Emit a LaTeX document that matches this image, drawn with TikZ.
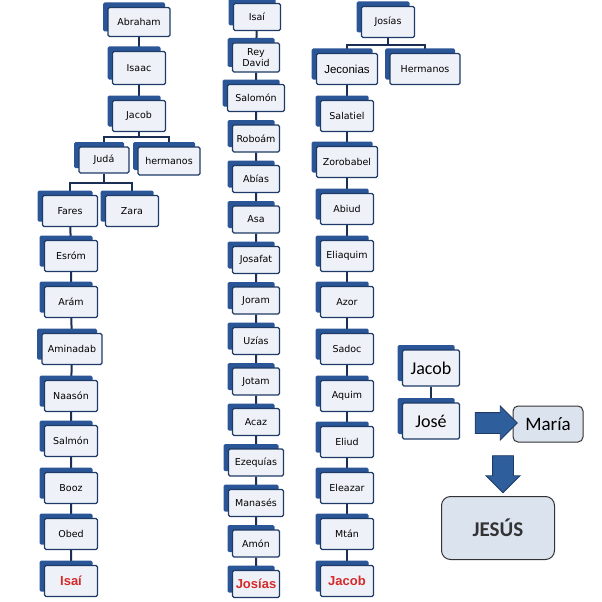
\documentclass[tikz,border=0pt]{standalone}
\usepackage{fontspec}
\setsansfont{DejaVu Sans}
\newfontfamily\arialfont{Liberation Sans}
\newfontfamily\califont{Carlito}
\usetikzlibrary{positioning}
\usetikzlibrary{shadows}
\usetikzlibrary{shapes.arrows}
\usetikzlibrary{backgrounds}

\definecolor{boxback}{HTML}{2A5596}
\definecolor{boxline}{HTML}{1E3A66}
\definecolor{boxface}{HTML}{EEF2F8}
\definecolor{linknavy}{HTML}{1B2F55}
\definecolor{endred}{HTML}{D42A2A}
\definecolor{softblue}{HTML}{DBE3EF}
\definecolor{arrowblue}{HTML}{2F5E9C}

\tikzset{
  gen/.style={draw=boxline, line width=1.3pt, fill=boxface, rounded corners=1.5pt,
    general shadow={fill=boxback, shadow xshift=-5pt, shadow yshift=5pt},
    minimum width=53pt, minimum height=31pt, inner sep=1pt, align=center,
    font=\sffamily\fontsize{9.5}{11}\selectfont},
  genmid/.style={gen, minimum width=47pt, minimum height=27pt},
  lastgen/.style={font=\arialfont\bfseries\fontsize{13}{15}\selectfont, text=endred},
  gentall/.style={gen, minimum width=57pt, minimum height=36pt,
    font=\califont\fontsize{18}{20}\selectfont},
  soft/.style={draw=black!80, line width=1pt, fill=softblue, align=center},
  blockarrow/.style={single arrow, fill=arrowblue, draw=boxline, line width=0.8pt,
    inner sep=10pt, minimum width=0pt, single arrow head extend=6.5pt},
  link/.style={draw=linknavy, line width=2pt}
}

\begin{document}
\begin{tikzpicture}[x=1pt, y=-1pt]
  \useasboundingbox (0,0) rectangle (602,602);

  % first column: Abraham to Isai
  \node[gen, minimum width=62pt, minimum height=29pt] (abraham) at (139,22) {Abraham};
  \node[gen, minimum height=33pt] (isaac) at (139,68) {Isaac};
  \node[gen] (jacoba) at (139,116) {Jacob};
  \node[gen, minimum width=50pt, minimum height=26pt] (juda) at (104,160) {Judá};
  \node[gen, minimum width=62pt, minimum height=28pt] (hermanosa) at (169,161) {hermanos};
  \node[gen, minimum width=55pt] (fares) at (70,211) {Fares};
  \node[gen] (zara) at (132,211) {Zara};
  \node[gen] (esrom) at (71,256) {Esróm};
  \node[gen] (aram) at (71,302) {Arám};
  \node[gen, minimum width=60pt] (aminadab) at (72,349) {Aminadab};
  \node[gen] (naason) at (71,396) {Naasón};
  \node[gen] (salmon) at (71,441) {Salmón};
  \node[gen] (booz) at (71,488) {Booz};
  \node[gen] (obed) at (71,534) {Obed};
  \node[gen, lastgen] (isaia) at (71,581) {Isaí};

  % second column: Isai to Josias
  \node[genmid] (isaib) at (257,17) {Isaí};
  \node[genmid, minimum height=29pt] (david) at (256,57.5) {Rey\\David};
  \node[genmid, minimum width=57pt] (salomon) at (256,98) {Salomón};
  \node[genmid] (roboam) at (256,138.5) {Roboám};
  \node[genmid] (abias) at (256,179) {Abías};
  \node[genmid] (asa) at (256,219.5) {Asa};
  \node[genmid] (josafat) at (256,260) {Josafat};
  \node[genmid] (joram) at (256,300.5) {Joram};
  \node[genmid] (uzias) at (256,341) {Uzías};
  \node[genmid] (jotam) at (256,381.5) {Jotam};
  \node[genmid] (acaz) at (256,422) {Acaz};
  \node[genmid, minimum width=55pt] (ezequias) at (256,462.5) {Ezequías};
  \node[genmid, minimum width=55pt] (manases) at (256,503) {Manasés};
  \node[genmid] (amon) at (256,543.5) {Amón};
  \node[genmid, lastgen] (josiasb) at (256,584) {Josías};

  % third column: Josias to Jacob
  \node[gen] (josiasc) at (388,22) {Josías};
  \node[gen, minimum width=61pt, font=\arialfont\fontsize{11.5}{13}\selectfont] (jeconias) at (347,69) {Jeconias};
  \node[gen, minimum width=70pt] (hermanosc) at (425,69) {Hermanos};
  \node[gen] (salatiel) at (347,116) {Salatiel};
  \node[gen, minimum width=61pt] (zorobabel) at (347,162) {Zorobabel};
  \node[gen] (abiud) at (347,209) {Abiud};
  \node[gen] (eliaquim) at (347,256) {Eliaquim};
  \node[gen] (azor) at (347,302) {Azor};
  \node[gen] (sadoc) at (347,349) {Sadoc};
  \node[gen] (aquim) at (347,396) {Aquim};
  \node[gen] (eliud) at (347,442) {Eliud};
  \node[gen] (eleazar) at (347,488) {Eleazar};
  \node[gen] (mtan) at (347,534) {Mtán};
  \node[gen, lastgen] (jacobc) at (347,581) {Jacob};

  % Jose, Maria and Jesus
  \node[gentall] (jacobd) at (431,368) {Jacob};
  \node[gentall] (jose) at (431,421) {José};
  \node[soft, rounded corners=5pt, minimum width=70pt, minimum height=36pt,
    font=\califont\fontsize{19}{21}\selectfont] (maria) at (548,424) {María};
  \node[soft, rounded corners=9pt, minimum width=113pt, minimum height=63pt,
    font=\califont\bfseries\fontsize{21}{23}\selectfont, text=black!80] (jesus) at (498,528) {JESÚS};
  \node[blockarrow, minimum height=42pt] (tomaria) at (491,423) {};
  \node[blockarrow, shape border rotate=270, minimum height=37pt] (tojesus) at (503,469) {};

  \begin{scope}[on background layer]
    \coordinate (jacobbus) at (139,137);
    \coordinate (judabus) at (104,183);
    \coordinate (josiasbus) at (388,45);
    \draw[link] (abraham) -- (isaac) -- (jacoba);
    \draw[link] (jacoba) -- (jacobbus);
    \draw[link] (juda.north) |- (jacobbus) -| (hermanosa.north);
    \draw[link] (juda) -- (judabus);
    \draw[link] (fares.north) |- (judabus) -| (zara.north);
    \draw[link] (fares) -- (esrom) -- (aram) -- (aminadab) -- (naason) -- (salmon)
      -- (booz) -- (obed) -- (isaia);
    \draw[link] (isaib) -- (david) -- (salomon) -- (roboam) -- (abias) -- (asa)
      -- (josafat) -- (joram) -- (uzias) -- (jotam) -- (acaz) -- (ezequias)
      -- (manases) -- (amon) -- (josiasb);
    \draw[link] (josiasc) -- (josiasbus);
    \draw[link] (jeconias.north) |- (josiasbus) -| (hermanosc.north);
    \draw[link] (jeconias) -- (salatiel) -- (zorobabel) -- (abiud) -- (eliaquim)
      -- (azor) -- (sadoc) -- (aquim) -- (eliud) -- (eleazar) -- (mtan) -- (jacobc);
    \draw[link, line width=1.2pt] (jacobd) -- (jose);
  \end{scope}
\end{tikzpicture}
\end{document}
